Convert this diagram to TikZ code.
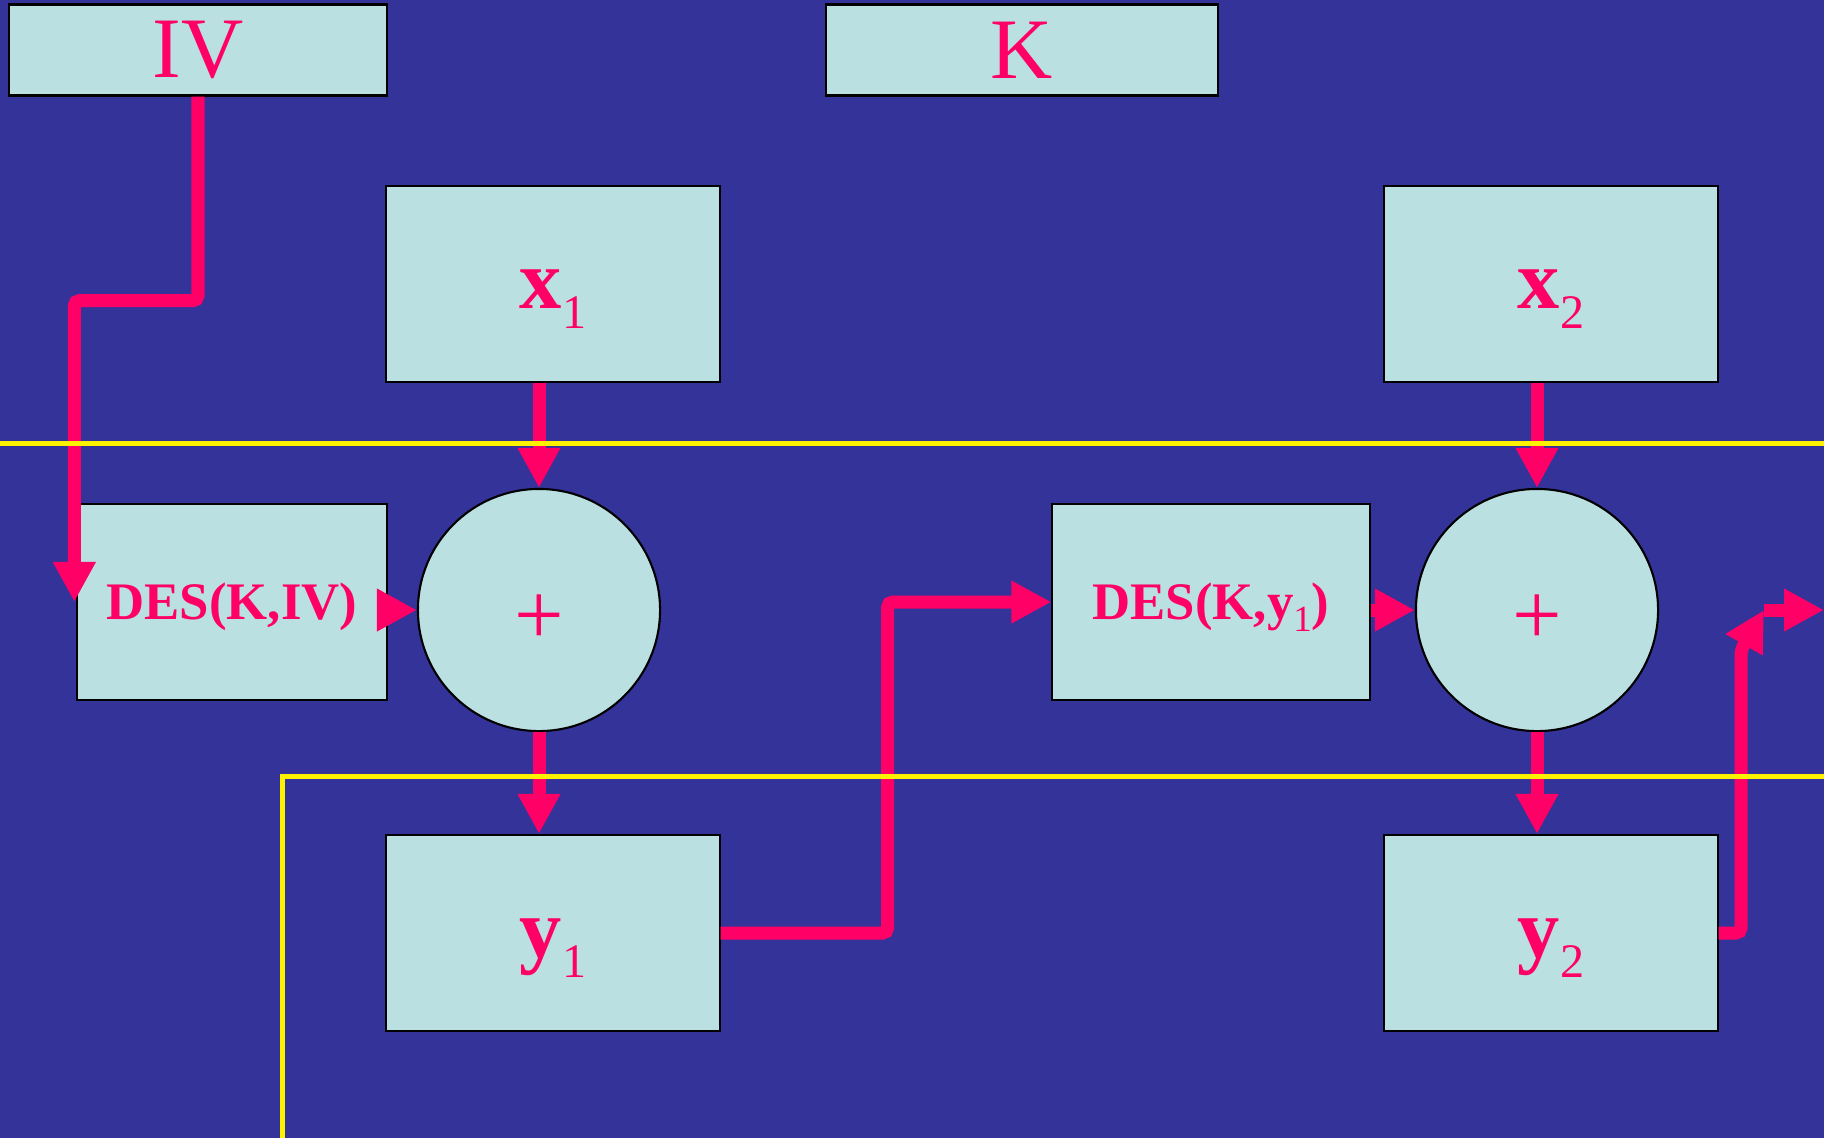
\documentclass[tikz,border=0pt]{standalone}
\usepackage{fontspec}
\setmainfont{Liberation Serif}
\usetikzlibrary{arrows.meta, calc}

\definecolor{slide}{HTML}{333399}
\definecolor{boxfill}{HTML}{BAE0E2}
\definecolor{wire}{HTML}{FF0066}

\begin{document}
\begin{tikzpicture}[x=0.01cm, y=-0.01cm,
    box/.style={draw=black, line width=0.6pt, fill=boxfill, text=wire, inner sep=0pt},
    wide/.style={box, minimum height=0.91cm, font=\fontsize{24.5pt}{28pt}\selectfont},
    blk/.style={box, minimum width=3.33cm, minimum height=1.96cm, text height=17pt, text depth=3pt, font=\fontsize{24pt}{28pt}\selectfont},
    des/.style={box, minimum height=1.96cm, text height=12pt, text depth=2pt, font=\fontsize{15pt}{18pt}\selectfont\bfseries},
    sum/.style={circle, draw=black, line width=0.6pt, fill=boxfill, text=wire, minimum size=2.42cm, inner sep=0pt, text height=19.4pt, text depth=0pt, font=\fontsize{25pt}{28pt}\selectfont},
    link/.style={wire, line width=0.13cm, rounded corners=0.05cm, -{Triangle[length=0.4cm, width=0.4cm]}},
    rule/.style={yellow, line width=0.05cm}]

    % 0. background
    \fill[slide] (0,0) rectangle (1824,1138);
    \useasboundingbox (0,0) rectangle (1824,1138);

    % 1. IV and K
    \node[wide, minimum width=3.78cm] (iv) at (198,50) {IV};
    \node[wide, minimum width=3.92cm] (k) at (1022,50) {K};

    % 2. plaintext blocks
    \node[blk] (xa) at (553,284) {{\bfseries x}\raisebox{-5.7pt}{\fontsize{13.7pt}{14pt}\selectfont 1}};
    \node[blk] (xb) at (1551,284) {{\bfseries x}\raisebox{-5.7pt}{\fontsize{13.7pt}{14pt}\selectfont 2}};

    % 3. cipher stages
    \node[des, minimum width=3.09cm] (desa) at (232,602) {DES(K,IV)};
    \node[sum] (pa) at (539,610) {+};
    \node[des, minimum width=3.17cm] (desb) at (1211,602) {DES(K,y\raisebox{-3.4pt}{\fontsize{10.5pt}{11pt}\mdseries\selectfont 1})};
    \node[sum] (pb) at (1537,610) {+};

    % 4. ciphertext blocks
    \node[blk] (ya) at (553,933) {{\bfseries y}\raisebox{-5.7pt}{\fontsize{13.7pt}{14pt}\selectfont 1}};
    \node[blk] (yb) at (1551,933) {{\bfseries y}\raisebox{-5.7pt}{\fontsize{13.7pt}{14pt}\selectfont 2}};

    \coordinate (bend) at (1741,650);
    \coordinate (outa) at (1764,610);
    \coordinate (outb) at (1824,610);

    % 5. arrows
    \draw[link] (iv.south) -- ++(0,204) -| ([xshift=-0.02cm]desa.west);
    \draw[link] (pa.north |- xa.south) -- (pa.north);
    \draw[link] ([xshift=-0.09cm]desa.east |- pa.west) -- (pa.west);
    \draw[link] (pa.south) -- (pa.south |- ya.north);
    \draw[link] (ya.east) -- ++(167,0) |- (desb.west);
    \draw[link] (desb.east |- pb.west) -- (pb.west);
    \draw[link] (pb.north |- xb.south) -- (pb.north);
    \draw[link] (pb.south) -- (pb.south |- yb.north);
    \draw[link] (yb.east) -| (bend) -- (outa);
    \draw[link] (outa) -- (outb);

    % 6. yellow rules
    \draw[rule] (0,443) -- (1824,443);
    \draw[rule] (282,1138) -- (282,776) -- (1824,776);

\end{tikzpicture}
\end{document}
